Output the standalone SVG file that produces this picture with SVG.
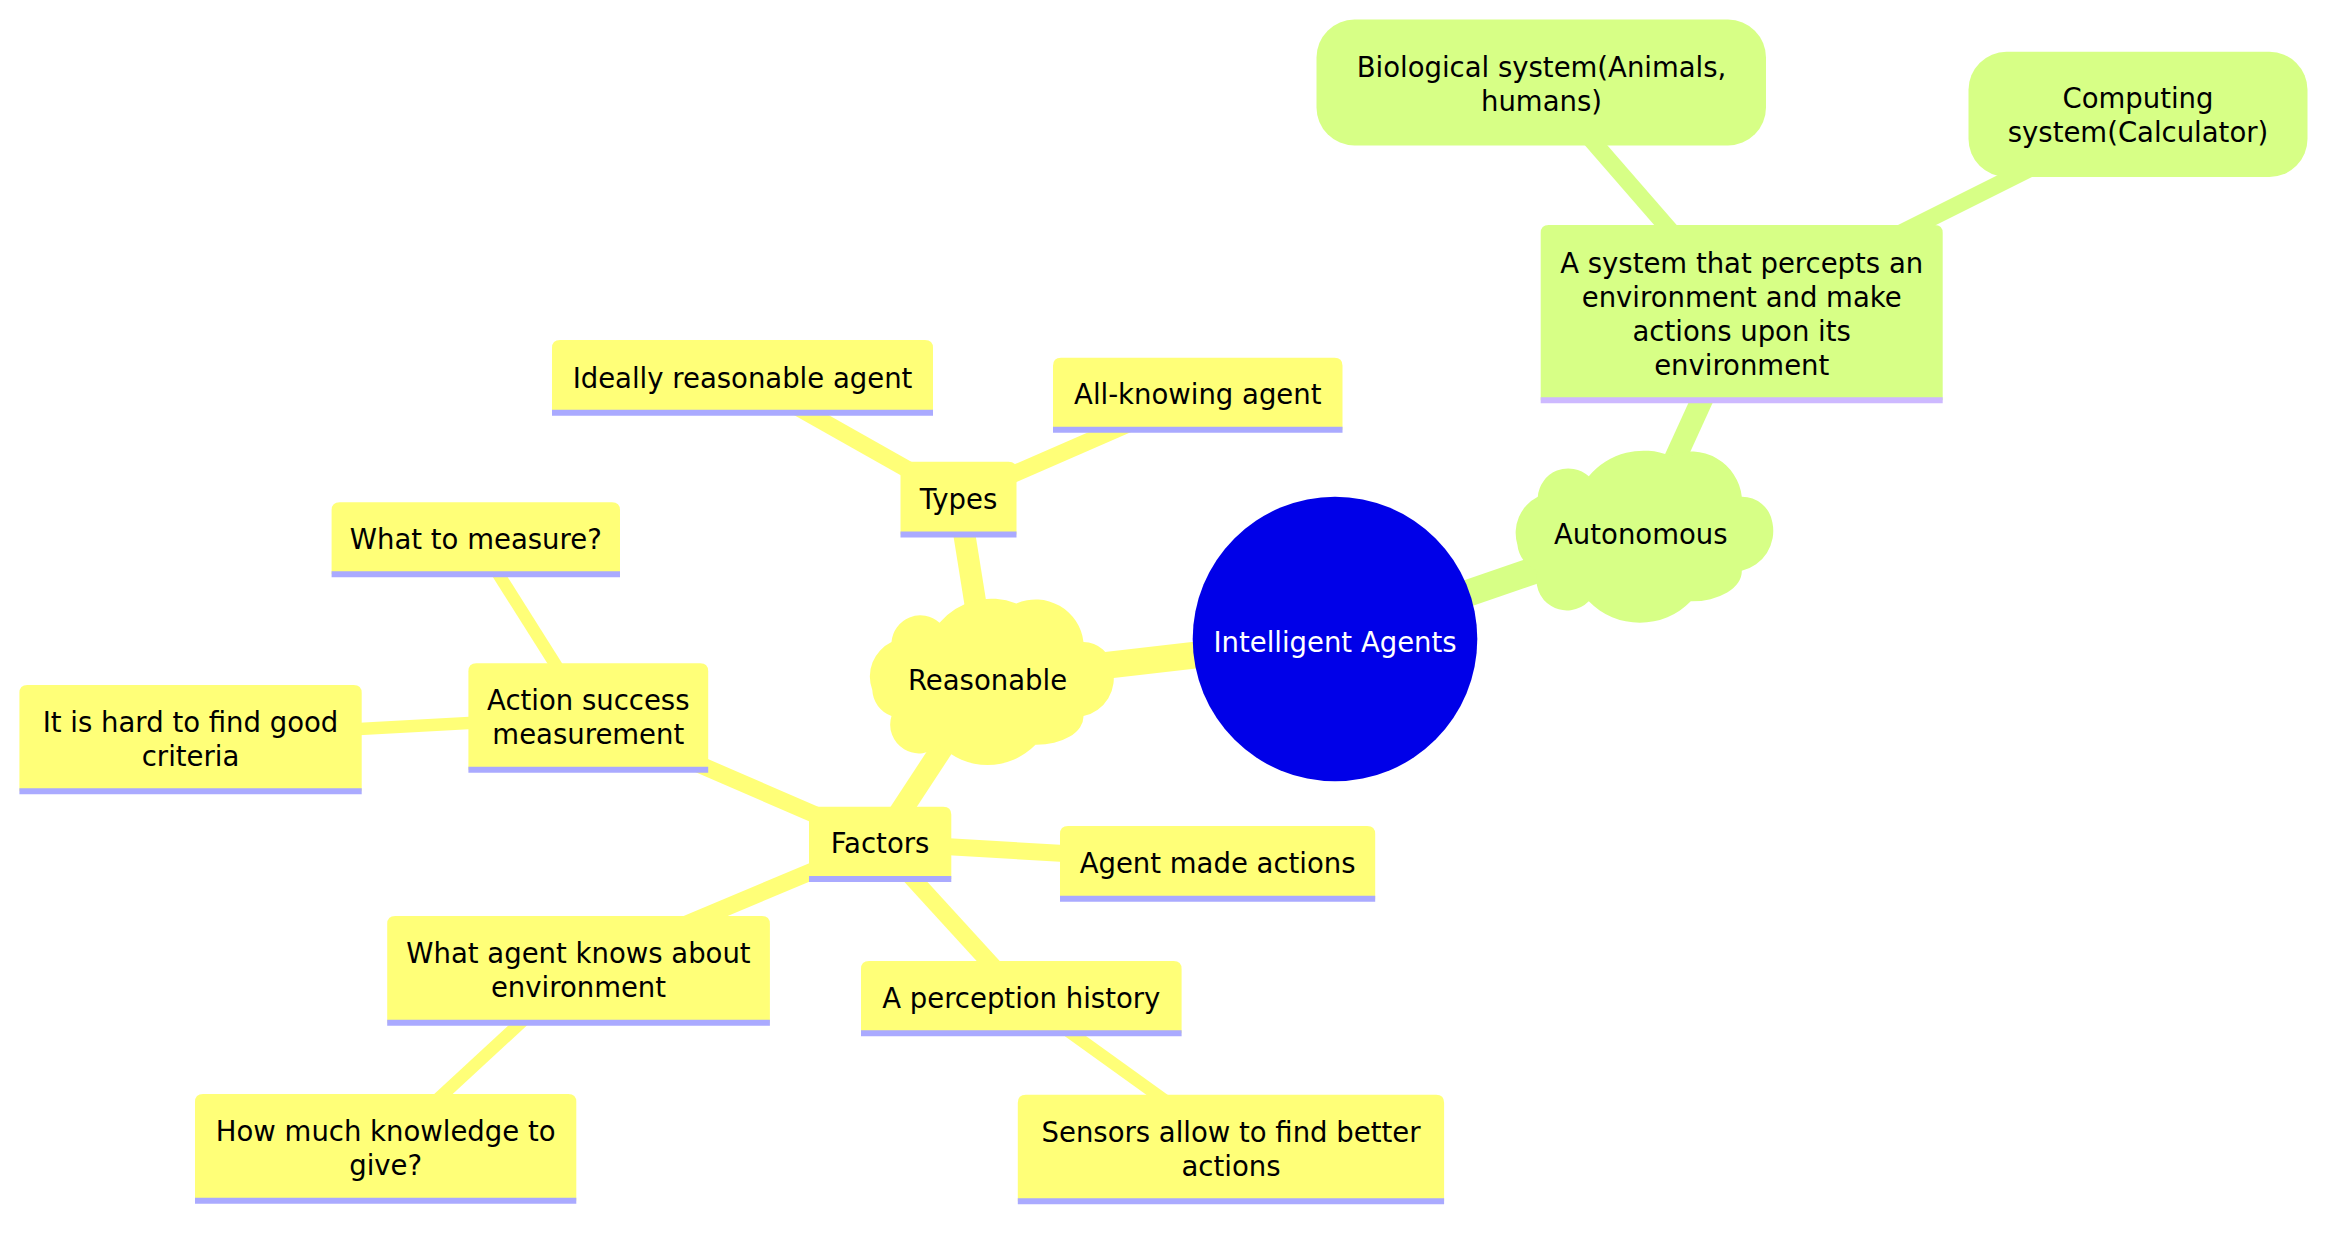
<svg xmlns="http://www.w3.org/2000/svg" width="2352" height="1236" viewBox="0 0 2352 1236">
<style>
text{font-family:"DejaVu Sans","Verdana","Liberation Sans",sans-serif;font-size:27.5px;text-anchor:middle;fill:#000}
.root text{fill:#fff}
.ey{stroke:#ffff78;fill:none}
.eg{stroke:#d7ff86;fill:none}
.d0{stroke-width:27}
.d1{stroke-width:22}
.d2{stroke-width:17}
.d3{stroke-width:12.5}
.ny path{fill:#ffff78}
.ny line{stroke:#aaaaff;stroke-width:6}
.ng path,.ng rect{fill:#d7ff86}
.ng line{stroke:#cdb9ff;stroke-width:6}
</style>
<rect width="2352" height="1236" fill="#fff"/>
<g id="connectors">
<line class="ey d0" x1="1335" y1="639" x2="987.5" y2="679"/>
<line class="eg d0" x1="1335" y1="639" x2="1640.8" y2="533.7"/>
<line class="ey d1" x1="987.5" y1="679" x2="958.5" y2="498.1"/>
<line class="ey d1" x1="987.5" y1="679" x2="880.1" y2="842.8"/>
<line class="ey d2" x1="958.5" y1="498.1" x2="742.6" y2="376.3"/>
<line class="ey d2" x1="958.5" y1="498.1" x2="1197.8" y2="393.7"/>
<line class="ey d2" x1="880.1" y1="842.8" x2="588.3" y2="716.5"/>
<line class="ey d2" x1="880.1" y1="842.8" x2="1217.6" y2="862.3"/>
<line class="ey d2" x1="880.1" y1="842.8" x2="578.5" y2="969.3"/>
<line class="ey d2" x1="880.1" y1="842.8" x2="1021.3" y2="997.2"/>
<line class="ey d3" x1="588.3" y1="716.5" x2="475.8" y2="538.3"/>
<line class="ey d3" x1="588.3" y1="716.5" x2="190.5" y2="738.2"/>
<line class="ey d3" x1="578.5" y1="969.3" x2="385.7" y2="1147.3"/>
<line class="ey d3" x1="1021.3" y1="997.2" x2="1231" y2="1148"/>
<line class="eg d1" x1="1640.8" y1="533.7" x2="1741.7" y2="312.7"/>
<line class="eg d2" x1="1741.7" y1="312.7" x2="1541.5" y2="82.5"/>
<line class="eg d2" x1="1741.7" y1="312.7" x2="2138" y2="114.4"/>
</g>
<g id="root" class="root">
<circle cx="1335" cy="639" r="142.3" fill="#0000e8"/>
<text x="1335" y="651.5">Intelligent Agents</text>
</g>
<g id="reasonable" class="ny">
<path transform="translate(891.5,642)" d="M0 0 a28.8,28.8 0 0,1 48,-19.2 a67.2,67.2 1 0,1 76.8,-19.2 a48,48 1 0,1 67.2,38.4 a28.8,28.8 1 0,1 28.8,25.9 a38.4,38.4 1 0,1 -28.8,48.1 a48,28.8 1 0,1 -48,28.8 a67.2,67.2 1 0,1 -96,0 a28.8,28.8 1 0,1 -48,-28.8 a28.8,28.8 1 0,1 -19.2,-25.9 a38.4,38.4 1 0,1 19.2,-48.1 H0 V0 Z"/>
<text x="987.5" y="690">Reasonable</text>
</g>
<g id="autonomous" class="ng">
<path transform="translate(1537.8,496.7)" d="M0 0 a30.6,30.6 0 0,1 51,-20.4 a71.4,71.4 1 0,1 81.6,-20.4 a51,51 1 0,1 71.4,40.8 a30.6,30.6 1 0,1 30.6,25.9 a40.8,40.8 1 0,1 -30.6,48.1 a51,30.6 1 0,1 -51,30.6 a71.4,71.4 1 0,1 -102,0 a30.6,30.6 1 0,1 -51,-30.6 a30.6,30.6 1 0,1 -20.4,-25.9 a40.8,40.8 1 0,1 20.4,-48.1 H0 V0 Z"/>
<text x="1640.8" y="543.7">Autonomous</text>
</g>
<g id="types" class="ny">
<path d="M900.5,534.5 V469.7 Q900.5,461.7 908.5,461.7 H1008.5 Q1016.5,461.7 1016.5,469.7 V534.5 Z"/>
<line x1="900.5" y1="534.5" x2="1016.5" y2="534.5"/>
<text x="958.5" y="509">Types</text>
</g>
<g id="factors" class="ny">
<path d="M809,879 V814.7 Q809,806.7 817,806.7 H943.3 Q951.3,806.7 951.3,814.7 V879 Z"/>
<line x1="809" y1="879" x2="951.3" y2="879"/>
<text x="880.1" y="853">Factors</text>
</g>
<g id="ideally" class="ny">
<path d="M552,412.7 V348 Q552,340 560,340 H925 Q933,340 933,348 V412.7 Z"/>
<line x1="552" y1="412.7" x2="933" y2="412.7"/>
<text x="742.5" y="387.5">Ideally reasonable agent</text>
</g>
<g id="allknowing" class="ny">
<path d="M1053,429.7 V365.7 Q1053,357.7 1061,357.7 H1334.5 Q1342.5,357.7 1342.5,365.7 V429.7 Z"/>
<line x1="1053" y1="429.7" x2="1342.5" y2="429.7"/>
<text x="1197.8" y="404">All-knowing agent</text>
</g>
<g id="whattomeasure" class="ny">
<path d="M331.6,574.3 V510.3 Q331.6,502.3 339.6,502.3 H612 Q620,502.3 620,510.3 V574.3 Z"/>
<line x1="331.6" y1="574.3" x2="620" y2="574.3"/>
<text x="475.8" y="548.5">What to measure?</text>
</g>
<g id="action" class="ny">
<path d="M468.4,769.7 V671.3 Q468.4,663.3 476.4,663.3 H700.2 Q708.2,663.3 708.2,671.3 V769.7 Z"/>
<line x1="468.4" y1="769.7" x2="708.2" y2="769.7"/>
<text x="588.3" y="710">Action success</text>
<text x="588.3" y="744">measurement</text>
</g>
<g id="hard" class="ny">
<path d="M19.4,791.3 V693 Q19.4,685 27.4,685 H353.7 Q361.7,685 361.7,693 V791.3 Z"/>
<line x1="19.4" y1="791.3" x2="361.7" y2="791.3"/>
<text x="190.5" y="731.5">It is hard to find good</text>
<text x="190.5" y="765.5">criteria</text>
</g>
<g id="agentmade" class="ny">
<path d="M1060,898.7 V834 Q1060,826 1068,826 H1367.2 Q1375.2,826 1375.2,834 V898.7 Z"/>
<line x1="1060" y1="898.7" x2="1375.2" y2="898.7"/>
<text x="1217.6" y="872.5">Agent made actions</text>
</g>
<g id="whatagent" class="ny">
<path d="M387.2,1022.7 V924 Q387.2,916 395.2,916 H761.9 Q769.9,916 769.9,924 V1022.7 Z"/>
<line x1="387.2" y1="1022.7" x2="769.9" y2="1022.7"/>
<text x="578.5" y="962.5">What agent knows about</text>
<text x="578.5" y="996.5">environment</text>
</g>
<g id="perception" class="ny">
<path d="M861,1033.3 V969 Q861,961 869,961 H1173.6 Q1181.6,961 1181.6,969 V1033.3 Z"/>
<line x1="861" y1="1033.3" x2="1181.6" y2="1033.3"/>
<text x="1021.3" y="1007.5">A perception history</text>
</g>
<g id="howmuch" class="ny">
<path d="M195,1200.7 V1102 Q195,1094 203,1094 H568.3 Q576.3,1094 576.3,1102 V1200.7 Z"/>
<line x1="195" y1="1200.7" x2="576.3" y2="1200.7"/>
<text x="385.7" y="1140.5">How much knowledge to</text>
<text x="385.7" y="1174.5">give?</text>
</g>
<g id="sensors" class="ny">
<path d="M1017.8,1201.3 V1102.7 Q1017.8,1094.7 1025.8,1094.7 H1436.1 Q1444.1,1094.7 1444.1,1102.7 V1201.3 Z"/>
<line x1="1017.8" y1="1201.3" x2="1444.1" y2="1201.3"/>
<text x="1231" y="1141.5">Sensors allow to find better</text>
<text x="1231" y="1175.5">actions</text>
</g>
<g id="asystem" class="ng">
<path d="M1540.7,400.3 V233 Q1540.7,225 1548.7,225 H1934.7 Q1942.7,225 1942.7,233 V400.3 Z"/>
<line x1="1540.7" y1="400.3" x2="1942.7" y2="400.3"/>
<text x="1741.7" y="272.5">A system that percepts an</text>
<text x="1741.7" y="306.5">environment and make</text>
<text x="1741.7" y="340.5">actions upon its</text>
<text x="1741.7" y="374.5">environment</text>
</g>
<g id="biological" class="ng">
<rect x="1316.5" y="19.5" width="449.5" height="126" rx="38" ry="38"/>
<text x="1541.5" y="77">Biological system(Animals,</text>
<text x="1541.5" y="111">humans)</text>
</g>
<g id="computing" class="ng">
<rect x="1968.5" y="51.8" width="339" height="125.2" rx="38" ry="38"/>
<text x="2138" y="108">Computing</text>
<text x="2138" y="141.5">system(Calculator)</text>
</g>
</svg>
